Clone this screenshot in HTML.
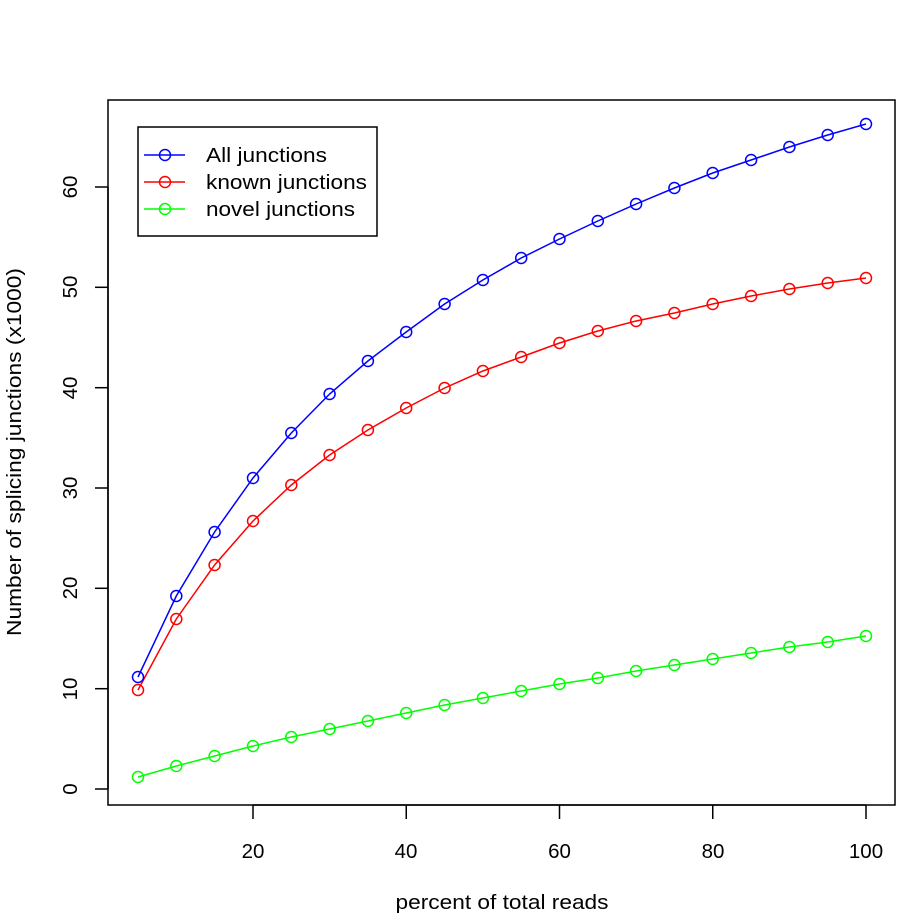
<!DOCTYPE html>
<html><head><style>body{margin:0;background:#fff}svg{display:block}</style></head>
<body>
<svg width="923" height="923" xmlns="http://www.w3.org/2000/svg" font-family="Liberation Sans, sans-serif" font-size="20.5" fill="#000">
<rect x="0" y="0" width="923" height="923" fill="#fff"/>
<rect x="108" y="100" width="787" height="705" fill="none" stroke="#000" stroke-width="1.5"/>
<g stroke="#000" stroke-width="1.5">
<line x1="253" y1="805" x2="866" y2="805"/>
<line x1="253" y1="805" x2="253" y2="819"/>
<line x1="406.25" y1="805" x2="406.25" y2="819"/>
<line x1="559.5" y1="805" x2="559.5" y2="819"/>
<line x1="712.75" y1="805" x2="712.75" y2="819"/>
<line x1="866" y1="805" x2="866" y2="819"/>
</g>
<g text-anchor="middle">
<text x="253" y="858">20</text><text x="406" y="858">40</text><text x="559.5" y="858">60</text><text x="713" y="858">80</text><text x="866" y="858">100</text>
<text x="502" y="909" textLength="213" lengthAdjust="spacingAndGlyphs">percent of total reads</text>
</g>
<g stroke="#000" stroke-width="1.5">
<line x1="108" y1="789" x2="108" y2="187"/>
<line x1="95" y1="789" x2="108" y2="789"/>
<line x1="95" y1="688.7" x2="108" y2="688.7"/>
<line x1="95" y1="588.3" x2="108" y2="588.3"/>
<line x1="95" y1="488" x2="108" y2="488"/>
<line x1="95" y1="387.7" x2="108" y2="387.7"/>
<line x1="95" y1="287.3" x2="108" y2="287.3"/>
<line x1="95" y1="187" x2="108" y2="187"/>
</g>
<g text-anchor="middle">
<text transform="translate(77,789) rotate(-90)">0</text>
<text transform="translate(77,689) rotate(-90)">10</text>
<text transform="translate(77,588) rotate(-90)">20</text>
<text transform="translate(77,488) rotate(-90)">30</text>
<text transform="translate(77,388) rotate(-90)">40</text>
<text transform="translate(77,287) rotate(-90)">50</text>
<text transform="translate(77,187) rotate(-90)">60</text>
<text transform="translate(21,452) rotate(-90)" textLength="368" lengthAdjust="spacingAndGlyphs">Number of splicing junctions (x1000)</text>
</g>
<g fill="none" stroke-width="1.5">
<g stroke="#0000ff">
<polyline points="138,677 176.3,596 214.6,532 253,478 291.3,433 329.6,394 367.9,361 406.2,332 444.6,304 482.9,280 521.2,258 559.5,239 597.8,221 636.1,204 674.4,188 712.7,173 751.1,160 789.4,147 827.7,135 866,124"/>
</g>
<g stroke="#ff0000">
<polyline points="138,690 176.3,619 214.6,565 253,521 291.3,485 329.6,455 367.9,430 406.2,408 444.6,388 482.9,371 521.2,357 559.5,343 597.8,331 636.1,321 674.4,313 712.7,304 751.1,296 789.4,289 827.7,283 866,278"/>
</g>
<g stroke="#00ff00">
<polyline points="138,777 176.3,766 214.6,756 253,746 291.3,737 329.6,729 367.9,721 406.2,713 444.6,705 482.9,698 521.2,691 559.5,684 597.8,678 636.1,671 674.4,665 712.7,659 751.1,653 789.4,647 827.7,642 866,636"/>
</g>
</g>
<g id="circles" fill="none" stroke-width="1.5"></g>
<rect x="138" y="127" width="239" height="109" fill="#fff" stroke="#000" stroke-width="1.5"/>
<g stroke-width="1.5" fill="none">
<line x1="144" y1="155" x2="185" y2="155" stroke="#0000ff"/><circle cx="165" cy="155" r="5.5" stroke="#0000ff"/>
<line x1="144" y1="182" x2="185" y2="182" stroke="#ff0000"/><circle cx="165" cy="182" r="5.5" stroke="#ff0000"/>
<line x1="144" y1="209" x2="185" y2="209" stroke="#00ff00"/><circle cx="165" cy="209" r="5.5" stroke="#00ff00"/>
</g>
<text x="206" y="162" textLength="121" lengthAdjust="spacingAndGlyphs">All junctions</text>
<text x="206" y="189" textLength="161" lengthAdjust="spacingAndGlyphs">known junctions</text>
<text x="206" y="216" textLength="149" lengthAdjust="spacingAndGlyphs">novel junctions</text>
<script>
var g=document.getElementById('circles');
document.querySelectorAll('polyline').forEach(function(p){var c=p.parentNode.getAttribute('stroke');
p.getAttribute('points').trim().split(/\s+/).forEach(function(s){var a=s.split(',');
var e=document.createElementNS('http://www.w3.org/2000/svg','circle');
e.setAttribute('cx',a[0]);e.setAttribute('cy',a[1]);e.setAttribute('r','5.5');e.setAttribute('stroke',c);e.setAttribute('fill','none');g.appendChild(e);});});
</script>
</svg>
</body></html>
